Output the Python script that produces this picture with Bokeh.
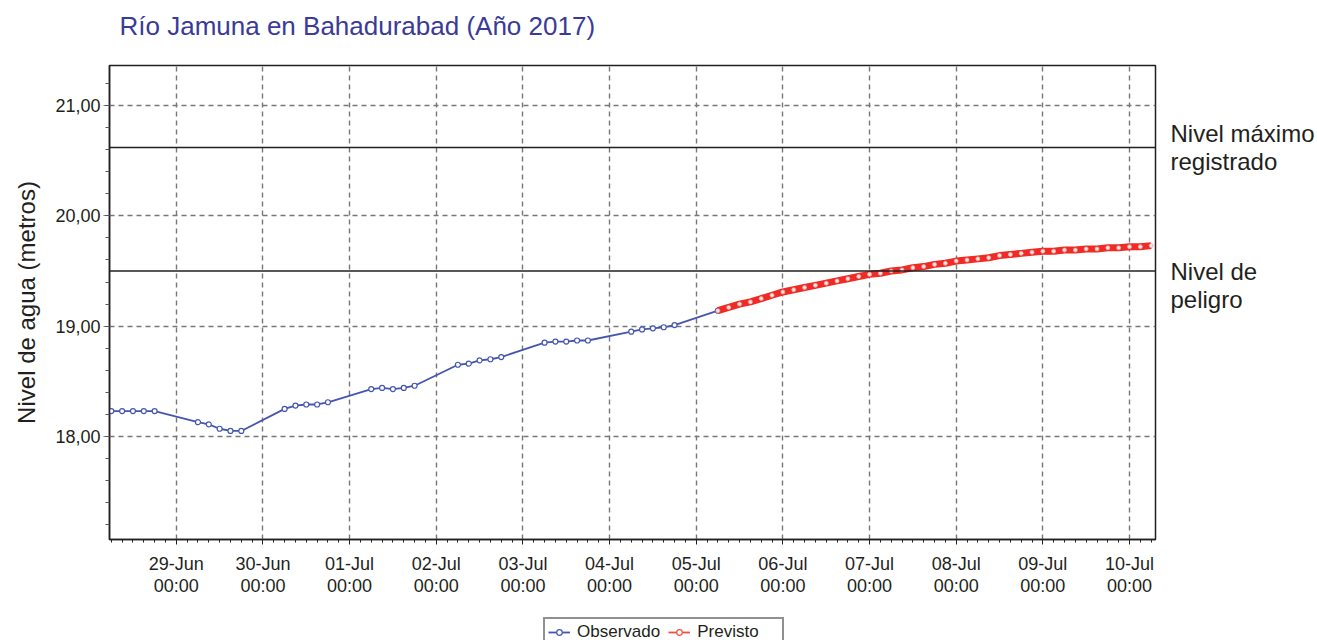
import numpy as np
import pandas as pd
from bokeh.plotting import figure
from bokeh.layouts import column
from bokeh.models import FixedTicker, Span, Legend, LegendItem, Range1d, LinearAxis, Label
from bokeh.embed import file_html
from bokeh.resources import INLINE

# ---------------- data ----------------
obs_times = [
    "2017-06-28 06:00", "2017-06-28 09:00", "2017-06-28 12:00", "2017-06-28 15:00", "2017-06-28 18:00",
    "2017-06-29 06:00", "2017-06-29 09:00", "2017-06-29 12:00", "2017-06-29 15:00", "2017-06-29 18:00",
    "2017-06-30 06:00", "2017-06-30 09:00", "2017-06-30 12:00", "2017-06-30 15:00", "2017-06-30 18:00",
    "2017-07-01 06:00", "2017-07-01 09:00", "2017-07-01 12:00", "2017-07-01 15:00", "2017-07-01 18:00",
    "2017-07-02 06:00", "2017-07-02 09:00", "2017-07-02 12:00", "2017-07-02 15:00", "2017-07-02 18:00",
    "2017-07-03 06:00", "2017-07-03 09:00", "2017-07-03 12:00", "2017-07-03 15:00", "2017-07-03 18:00",
    "2017-07-04 06:00", "2017-07-04 09:00", "2017-07-04 12:00", "2017-07-04 15:00", "2017-07-04 18:00",
    "2017-07-05 06:00",
]
obs_levels = [
    18.23, 18.23, 18.23, 18.23, 18.23,
    18.13, 18.11, 18.07, 18.05, 18.05,
    18.25, 18.28, 18.29, 18.29, 18.31,
    18.43, 18.44, 18.43, 18.44, 18.46,
    18.65, 18.66, 18.69, 18.70, 18.72,
    18.85, 18.86, 18.86, 18.87, 18.87,
    18.95, 18.97, 18.98, 18.99, 19.01,
    19.14,
]
fc_start = "2017-07-05 06:00"
fc_step = "3h"
fc_levels = [
    19.14, 19.17, 19.20, 19.22, 19.25, 19.28, 19.31, 19.33, 19.35, 19.37,
    19.39, 19.41, 19.43, 19.45, 19.47, 19.48, 19.50, 19.51, 19.53, 19.54,
    19.56, 19.57, 19.59, 19.60, 19.61, 19.62, 19.64, 19.65, 19.66, 19.67,
    19.68, 19.68, 19.69, 19.69, 19.70, 19.70, 19.71, 19.71, 19.72, 19.72,
    19.73,
]
day_ticks = ["2017-06-29", "2017-06-30", "2017-07-01", "2017-07-02", "2017-07-03", "2017-07-04",
             "2017-07-05", "2017-07-06", "2017-07-07", "2017-07-08", "2017-07-09", "2017-07-10"]
day_tick_labels = ["29-Jun\n00:00", "30-Jun\n00:00", "01-Jul\n00:00", "02-Jul\n00:00",
                   "03-Jul\n00:00", "04-Jul\n00:00", "05-Jul\n00:00", "06-Jul\n00:00",
                   "07-Jul\n00:00", "08-Jul\n00:00", "09-Jul\n00:00", "10-Jul\n00:00"]
y_ticks = [18, 19, 20, 21]
y_tick_labels = ["18,00", "19,00", "20,00", "21,00"]
danger_level = 19.50
record_level = 20.62
level_names = {record_level: "Nivel máximo\nregistrado", danger_level: "\nNivel de\npeligro"}
series_names = ["Observado", "Previsto"]
title_text = "Río Jamuna en Bahadurabad (Año 2017)"

# ---------------- layout constants ----------------
FONT = "Liberation Sans"
TXT = "#231f20"
BLUE = "#4556b0"
RED = "#ee2b25"
RED_LEG = "#f0503f"
W = 1317
LEFT, RIGHT = 109, 161            # borders around the frame
FRAME_W = W - LEFT - RIGHT
TOP_H, MAIN_H, LEG_H = 60, 540, 40

def ms(t):
    return int(pd.Timestamp(t).value // 10**6)

def strip(h):
    f = figure(width=W, height=h, output_backend="svg", toolbar_location=None,
               x_axis_location=None, y_axis_location=None,
               min_border_left=LEFT, min_border_right=RIGHT, min_border_top=0, min_border_bottom=0,
               x_range=Range1d(0, FRAME_W), y_range=Range1d(0, h))
    f.toolbar.logo = None
    f.grid.visible = False
    f.outline_line_color = None
    return f

# ---------------- title strip ----------------
t = strip(TOP_H)
t.add_layout(Label(x=10, y=TOP_H - 25, text=title_text, text_baseline="middle", text_align="left",
                   text_font=FONT, text_font_size="26px", text_color="#3a3a99"))

# ---------------- main chart ----------------
obs_x = pd.to_datetime(obs_times)
fc_x = pd.date_range(fc_start, periods=len(fc_levels), freq=fc_step)
x_start = pd.Timestamp("2017-06-28 05:30")
x_end = pd.Timestamp("2017-07-10 07:12")

p = figure(width=W, height=MAIN_H, x_axis_type="datetime",
           x_range=Range1d(x_start, x_end), y_range=Range1d(17.066, 21.363),
           output_backend="svg", toolbar_location=None,
           min_border_left=LEFT, min_border_right=RIGHT, min_border_top=5, min_border_bottom=61)
p.toolbar.logo = None
p.outline_line_color = TXT
p.outline_line_width = 1.5

# x axis
xticks = [ms(d) for d in day_ticks]
xminor = [ms(v) for v in pd.date_range("2017-06-28 06:00", "2017-07-10 06:00", freq="3h")]
p.xaxis.ticker = FixedTicker(ticks=xticks, minor_ticks=xminor)
p.xaxis.major_label_overrides = {k: v for k, v in zip(xticks, day_tick_labels)}
p.xaxis.major_label_text_font = FONT
p.xaxis.major_label_text_font_size = "18px"
p.xaxis.major_label_text_color = TXT
p.xaxis.major_label_text_line_height = 1.1
p.xaxis.major_label_standoff = 9
p.xaxis.major_tick_out = 5
p.xaxis.major_tick_in = 0
p.xaxis.minor_tick_out = 3
p.xaxis.minor_tick_in = 0
p.xaxis.axis_line_color = TXT
p.xaxis.axis_line_width = 1.5
p.xaxis.major_tick_line_color = TXT
p.xaxis.minor_tick_line_color = TXT

# y axis
yminor = [round(v, 1) for v in np.arange(17.2, 21.3, 0.2)]
p.yaxis.ticker = FixedTicker(ticks=y_ticks, minor_ticks=yminor)
p.yaxis.major_label_overrides = {k: v for k, v in zip(y_ticks, y_tick_labels)}
p.yaxis.major_label_text_font = FONT
p.yaxis.major_label_text_font_size = "18px"
p.yaxis.major_label_text_color = TXT
p.yaxis.major_label_standoff = 3
p.yaxis.major_tick_out = 6
p.yaxis.major_tick_in = 0
p.yaxis.minor_tick_out = 4
p.yaxis.minor_tick_in = 0
p.yaxis.axis_line_color = TXT
p.yaxis.axis_line_width = 1.5
p.yaxis.major_tick_line_color = "#777777"
p.yaxis.minor_tick_line_color = "#555555"
p.yaxis.axis_label = "Nivel de agua (metros)"
p.yaxis.axis_label_text_font = FONT
p.yaxis.axis_label_text_font_size = "24px"
p.yaxis.axis_label_text_font_style = "normal"
p.yaxis.axis_label_text_color = TXT
p.yaxis.axis_label_standoff = 12

for g in (p.xgrid, p.ygrid):
    g.grid_line_color = "#777777"
    g.grid_line_dash = "5 4"
    g.grid_line_width = 1.4

# reference levels
for lvl in (record_level, danger_level):
    p.add_layout(Span(location=lvl, dimension="width", line_color=TXT, line_width=1.5))

# right-side level names, as an axis of their own
lvl_ticks = [record_level, danger_level]
raxis = LinearAxis(ticker=FixedTicker(ticks=lvl_ticks, minor_ticks=[]),
                   major_label_overrides={k: level_names[k] for k in lvl_ticks},
                   axis_line_color=None, major_tick_line_color=None, minor_tick_line_color=None,
                   major_tick_out=0, major_tick_in=0, major_label_standoff=15,
                   major_label_text_font=FONT, major_label_text_font_size="24px",
                   major_label_text_color=TXT, major_label_text_line_height=1.05)
p.add_layout(raxis, "right")

# series
p.line(obs_x, obs_levels, line_color=BLUE, line_width=1.8)
p.scatter(obs_x, obs_levels, marker="circle", size=5, fill_color="white",
          line_color=BLUE, line_width=1.2)
p.line(fc_x, fc_levels, line_color=RED, line_width=7)
p.scatter(fc_x, fc_levels, marker="circle", size=4, fill_color="#ffe6e6",
          line_color="#f6a0a0", line_width=0.8)

# ---------------- legend strip ----------------
q = strip(LEG_H)
nan = [np.nan]
items = []
for name, col in zip(series_names, (BLUE, RED_LEG)):
    lr = q.line(nan, nan, line_color=col, line_width=1.8)
    sr = q.scatter(nan, nan, marker="circle", size=5, fill_color="white", line_color=col, line_width=1.2)
    items.append(LegendItem(label=name, renderers=[lr, sr]))

legend = Legend(items=items, orientation="horizontal", location=(434, LEG_H - 17 - 30))
legend.label_text_font = FONT
legend.label_text_font_size = "17px"
legend.label_text_color = TXT
legend.glyph_width = 22
legend.glyph_height = 14
legend.label_height = 17
legend.label_width = 82
legend.label_standoff = 7
legend.spacing = 8
legend.padding = 3
legend.margin = 0
legend.border_line_color = TXT
legend.border_line_width = 2
q.add_layout(legend)

layout = column(t, p, q, spacing=0)
open("out.html", "w").write(file_html(layout, INLINE))
